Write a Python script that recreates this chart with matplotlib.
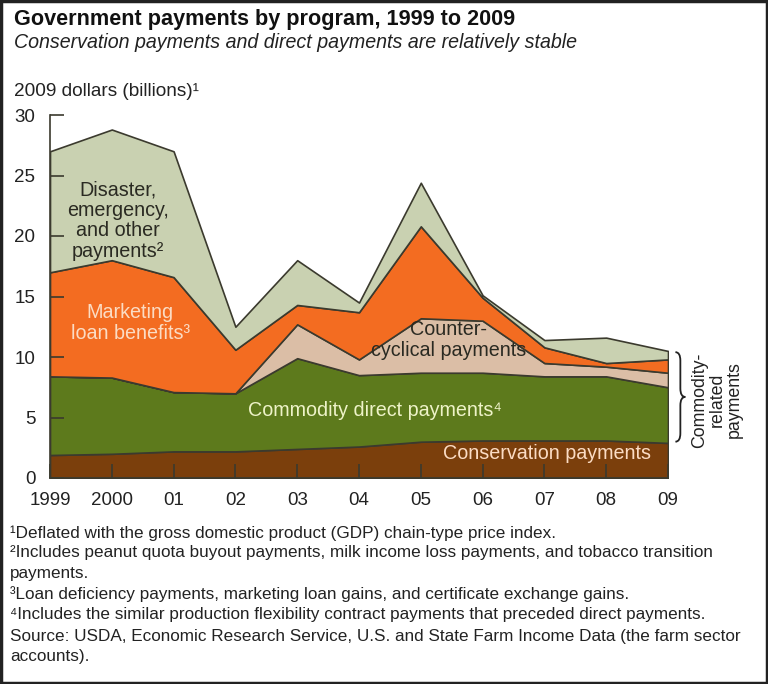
import numpy as np
import matplotlib
matplotlib.use("Agg")
import matplotlib.pyplot as plt
import matplotlib.patches as mpatches
from matplotlib.path import Path

plt.rcParams['font.family'] = ['Liberation Sans', 'DejaVu Sans']

years = [1999, 2000, 2001, 2002, 2003, 2004, 2005, 2006, 2007, 2008, 2009]
year_labels = ['1999', '2000', '01', '02', '03', '04', '05', '06', '07', '08', '09']

# billions of 2009 dollars (stack order bottom -> top)
conservation = [1.9, 2.0, 2.2, 2.2, 2.4, 2.6, 3.0, 3.1, 3.1, 3.1, 2.9]
direct = [6.5, 6.3, 4.9, 4.8, 7.5, 5.9, 5.7, 5.6, 5.3, 5.3, 4.6]
countercyclical = [0, 0, 0, 0, 2.8, 1.3, 4.5, 4.3, 1.1, 0.8, 1.2]
marketing_loan = [8.6, 9.7, 9.5, 3.6, 1.6, 3.9, 7.6, 1.9, 1.3, 0.3, 1.1]
disaster = [10.0, 10.8, 10.4, 1.9, 3.7, 0.8, 3.6, 0.2, 0.6, 2.1, 0.7]

colors = ['#7b3f0c', '#5d7a1c', '#dbbea6', '#f36c21', '#c9d1b1']

W, H = 768, 684
fig = plt.figure(figsize=(W / 100, H / 100), dpi=100)

def px(x, y):
    return x / W, 1 - y / H

ax = fig.add_axes([50 / W, 1 - 478 / H, 618 / W, 363 / H])
ax.stackplot(years, conservation, direct, countercyclical, marketing_loan, disaster,
             colors=colors, edgecolor='#3b3a2e', linewidth=1.2)
ax.set_xlim(1999, 2009)
ax.set_ylim(0, 30)
ax.set_xticks(years)
ax.set_xticklabels(year_labels)
ax.set_yticks(range(0, 31, 5))
ax.tick_params(axis='both', direction='in', length=10, width=1.2, color='#3b3a2e',
               labelsize=13.5, labelcolor='#222222')
ax.tick_params(axis='x', pad=10)
ax.tick_params(axis='y', pad=10.5)
for s in ['top', 'right']:
    ax.spines[s].set_visible(False)
for s in ['left', 'bottom']:
    ax.spines[s].set_color('#3b3a2e')
    ax.spines[s].set_linewidth(1.2)
ax.patch.set_alpha(0)

# labels inside areas
lab = 14.2
ax.text(2000.1, 21.3, 'Disaster,\nemergency,\nand other\npayments²', ha='center', va='center',
        fontsize=lab, color='#2a2a22', linespacing=1.1)
ax.text(2000.3, 12.8, 'Marketing\nloan benefits³', ha='center', va='center',
        fontsize=lab, color='#fbdcc4', linespacing=1.1)
ax.text(2005.45, 11.4, 'Counter-\ncyclical payments', ha='center', va='center',
        fontsize=lab, color='#2a2a22', linespacing=1.1)
ax.text(2004.25, 5.6, 'Commodity direct payments⁴', ha='center', va='center',
        fontsize=lab, color='#eef3c8')
ax.text(2007.05, 2.0, 'Conservation payments', ha='center', va='center',
        fontsize=lab, color='#fbdcc4')

# curly brace for commodity-related payments
x0, w = 2009.12, 0.16
yt, yb = 10.4, 3.0
ym = (yt + yb) / 2
r = 0.7
verts = [(x0, yt), (x0 + w / 2, yt), (x0 + w / 2, yt - r),
         (x0 + w / 2, ym + r),
         (x0 + w / 2, ym), (x0 + w, ym),
         (x0 + w / 2, ym), (x0 + w / 2, ym - r),
         (x0 + w / 2, yb + r),
         (x0 + w / 2, yb), (x0, yb)]
codes = [Path.MOVETO, Path.CURVE3, Path.CURVE3, Path.LINETO, Path.CURVE3, Path.CURVE3,
         Path.CURVE3, Path.CURVE3, Path.LINETO, Path.CURVE3, Path.CURVE3]
ax.add_patch(mpatches.PathPatch(Path(verts, codes), fill=False, lw=1.3,
                                edgecolor='#222222', clip_on=False))
fig.text(*px(717, 400), 'Commodity-\nrelated\npayments', rotation=90, ha='center', va='center',
         fontsize=12.8, color='#222222', linespacing=1.0)

# titles
fig.text(*px(14, 20), 'Government payments by program, 1999 to 2009', fontsize=15.6,
         fontweight='bold', va='center', ha='left', color='#111111')
fig.text(*px(14, 42), 'Conservation payments and direct payments are relatively stable',
         fontsize=14.1, style='italic', va='center', ha='left', color='#222222')
fig.text(*px(14, 92), '2009 dollars (billions)¹', fontsize=13.7, va='center', ha='left',
         color='#222222')

notes = [
    (538, '¹Deflated with the gross domestic product (GDP) chain-type price index.'),
    (557, '²Includes peanut quota buyout payments, milk income loss payments, and tobacco transition'),
    (578, 'payments.'),
    (599, '³Loan deficiency payments, marketing loan gains, and certificate exchange gains.'),
    (619, '⁴Includes the similar production flexibility contract payments that preceded direct payments.'),
    (641, 'Source: USDA, Economic Research Service, U.S. and State Farm Income Data (the farm sector'),
    (661, 'accounts).'),
]
for y, t in notes:
    fig.text(*px(10, y), t, fontsize=12.3, va='baseline', ha='left', color='#222222')

fig.patches.append(mpatches.Rectangle((0.0015, 0.0015), 0.997, 0.997, transform=fig.transFigure,
                                      fill=False, edgecolor='#222222', lw=2.5))

fig.savefig('out.png', dpi=100, facecolor='white')
